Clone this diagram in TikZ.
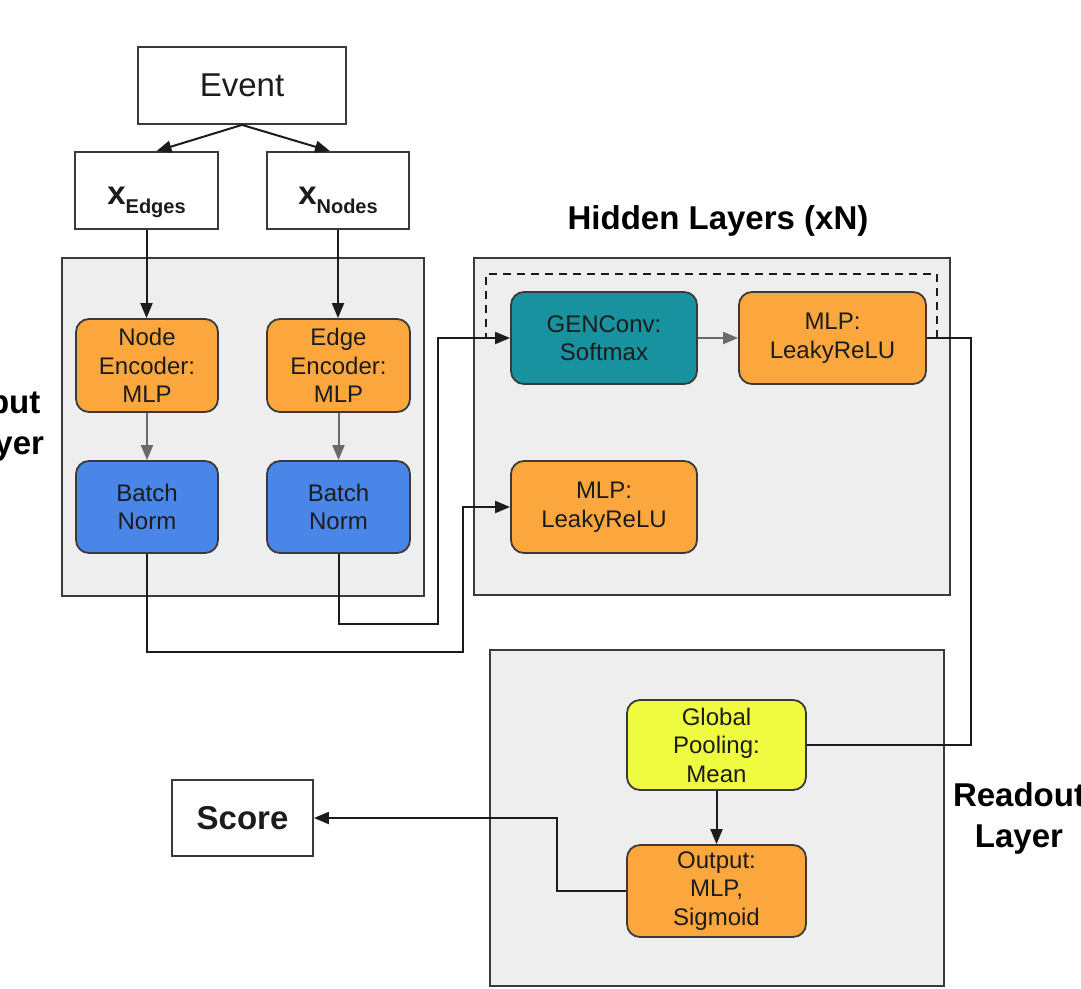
\documentclass[tikz,border=0pt]{standalone}
\usepackage{fontspec}
\setmainfont{Liberation Sans}
\usetikzlibrary{arrows.meta,calc}

\definecolor{panelgray}{HTML}{EEEEEE}
\definecolor{edgegray}{HTML}{3A3A3A}
\definecolor{mlporange}{HTML}{FBA73E}
\definecolor{normblue}{HTML}{4A86E8}
\definecolor{convteal}{HTML}{17929E}
\definecolor{poolyellow}{HTML}{EEFB41}
\definecolor{flowgray}{HTML}{6B6B6B}
\definecolor{inkdark}{HTML}{1C1C1C}

\begin{document}
\begin{tikzpicture}[x=1pt,y=-1pt,
  panel/.style={draw=edgegray, fill=panelgray, line width=1.8pt, inner sep=0pt},
  plainbox/.style={draw=edgegray, fill=white, line width=1.8pt, inner sep=0pt, text=inkdark},
  block/.style={draw=edgegray, rounded corners=13pt, line width=1.8pt, inner sep=0pt,
    align=center, font=\fontsize{24}{28.5}\selectfont, text=inkdark},
  wire/.style={line width=2pt, draw=inkdark},
  softwire/.style={line width=2pt, draw=flowgray},
  tip/.style={-{Triangle[length=15pt,width=12pt]}},
  loopline/.style={line width=2pt, draw=inkdark, dash pattern=on 8pt off 6pt},
  heading/.style={font=\fontsize{33}{41}\selectfont\bfseries, align=center, text=black},
  sym/.style={font=\bfseries, text height=27pt, text depth=0pt},
]
\useasboundingbox (0,0) rectangle (1081,988);
\clip (0,0) rectangle (1081,988);

% layer panels
\node[panel, minimum width=362pt, minimum height=338pt] (inpanel) at (243,427) {};
\node[panel, minimum width=476pt, minimum height=337pt] (hidpanel) at (712,426.5) {};
\node[panel, minimum width=454pt, minimum height=336pt] (readpanel) at (717,818) {};

% panel titles
\node[heading] (intitle) at (0,426) {Input\\Layer};
\node[heading] (hidtitle) at (718,221) {Hidden Layers (xN)};
\node[heading] (readtitle) at (1019,818) {Readout\\Layer};

% recurrence loop around the hidden block
\coordinate (loopR) at (937,338);
\coordinate (loopTR) at (937,274);
\coordinate (loopTL) at (486,274);
\coordinate (loopL) at (486,338);
\draw[loopline] (loopR) -- (loopTR) -- (loopTL) -- (loopL);

% input boxes
\node[plainbox, minimum width=208pt, minimum height=77pt,
      font=\fontsize{33}{40}\selectfont] (event) at (242,85.5) {Event};
\node[plainbox, sym, minimum width=143pt, minimum height=77pt] (xe) at (146.5,190.5)
  {{\fontsize{33}{33}\selectfont x}{\fontsize{20}{20}\selectfont\raisebox{-9pt}{Edges}}};
\node[plainbox, sym, minimum width=142pt, minimum height=77pt] (xn) at (338,190.5)
  {{\fontsize{33}{33}\selectfont x}{\fontsize{20}{20}\selectfont\raisebox{-9pt}{Nodes}}};

% encoders and normalisation
\node[block, fill=mlporange, minimum width=142pt, minimum height=93pt] (enc1) at (147,365.5)
  {Node\\Encoder:\\MLP};
\node[block, fill=mlporange, minimum width=143pt, minimum height=93pt] (enc2) at (338.5,365.5)
  {Edge\\Encoder:\\MLP};
\node[block, fill=normblue, minimum width=142pt, minimum height=92pt] (bn1) at (147,507)
  {Batch\\Norm};
\node[block, fill=normblue, minimum width=143pt, minimum height=92pt] (bn2) at (338.5,507)
  {Batch\\Norm};

% hidden layers
\node[block, fill=convteal, minimum width=186pt, minimum height=92pt] (conv) at (604,338)
  {GENConv:\\Softmax};
\node[block, fill=mlporange, minimum width=187pt, minimum height=92pt] (mlp1) at (832.5,338)
  {MLP:\\LeakyReLU};
\node[block, fill=mlporange, minimum width=186pt, minimum height=92pt] (mlp2) at (604,507)
  {MLP:\\LeakyReLU};

% readout
\node[block, fill=poolyellow, minimum width=179pt, minimum height=90pt] (pool) at (716.5,745)
  {Global\\Pooling:\\Mean};
\node[block, fill=mlporange, minimum width=179pt, minimum height=92pt] (out) at (716.5,891)
  {Output:\\MLP,\\Sigmoid};
\node[plainbox, minimum width=141pt, minimum height=76pt,
      font=\fontsize{33}{40}\selectfont\bfseries] (score) at (242.5,818) {Score};

% connectors
\draw[wire,tip] (event.south) -- ($(xe.north)+(10,0)$);
\draw[wire,tip] (event.south) -- ($(xn.north)+(-8,0)$);
\draw[wire,tip] (xe.south) -- (xe.south |- enc1.north);
\draw[wire,tip] (xn.south) -- (xn.south |- enc2.north);
\draw[softwire,tip] (enc1.south) -- (enc1.south |- bn1.north);
\draw[softwire,tip] (enc2.south) -- (enc2.south |- bn2.north);
\draw[softwire,tip] (conv.east) -- (mlp1.west);

\coordinate (bendA) at (438,624);
\coordinate (bendB) at (463,652);
\draw[wire,tip] (bn2.south) |- (bendA) |- (conv.west);
\draw[wire,tip] (bn1.south) |- (bendB) |- (mlp2.west);

\coordinate (bendC) at (971,338);
\draw[wire] (mlp1.east) -- (bendC) |- (pool.east);
\draw[wire,tip] (pool.south) -- (out.north);

\coordinate (bendD) at (557,891);
\draw[wire,tip] (out.west) -- (bendD) |- (score.east);
\end{tikzpicture}
\end{document}
